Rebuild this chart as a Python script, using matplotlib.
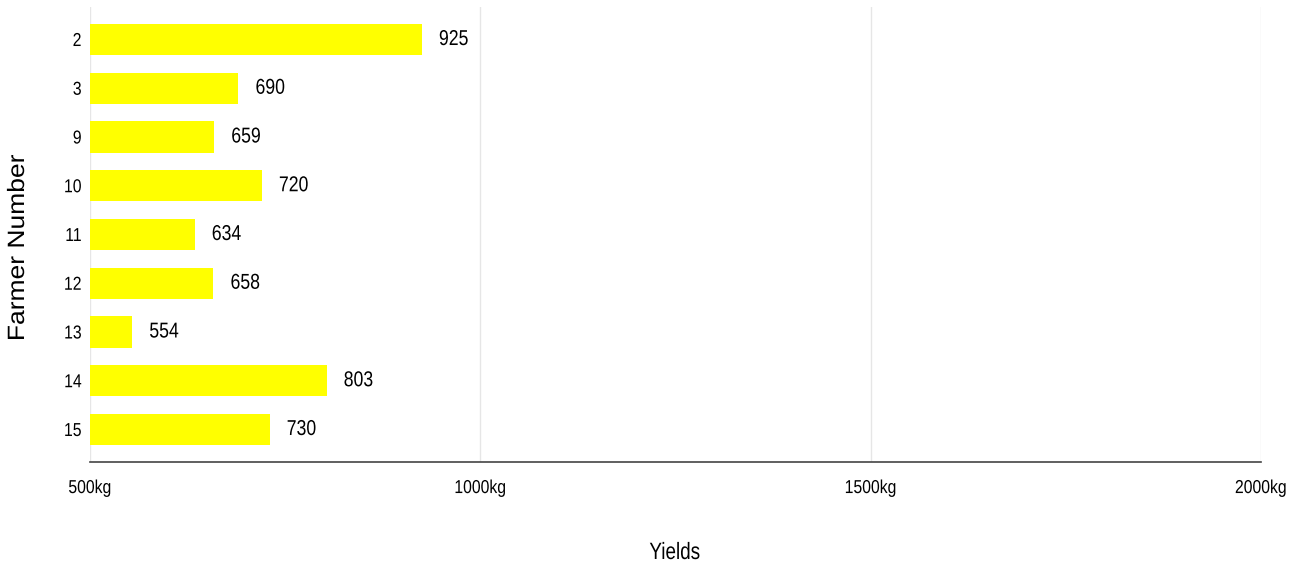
import matplotlib
matplotlib.use("Agg")
import matplotlib.pyplot as plt
from matplotlib.patheffects import AbstractPathEffect
from matplotlib.transforms import Affine2D

farmers = ["2", "3", "9", "10", "11", "12", "13", "14", "15"]
yields = [925, 690, 659, 720, 634, 658, 554, 803, 730]
x_ticks = [500, 1000, 1500, 2000]
x_labels = ["500kg", "1000kg", "1500kg", "2000kg"]

FONT = ["Liberation Sans", "DejaVu Sans"]


class Squeeze(AbstractPathEffect):
    # narrow the glyphs along the baseline (no condensed font installed)
    def __init__(self, sx, align):
        super().__init__()
        self.sx = sx
        self.align = align

    def draw_path(self, renderer, gc, tpath, affine, rgbFace=None):
        w = tpath.get_extents().x1
        t = Affine2D().scale(self.sx, 1).translate((1 - self.sx) * w * self.align, 0) + affine
        renderer.draw_path(gc, tpath, t, rgbFace)


W, H = 1290, 569
fig = plt.figure(figsize=(W / 100, H / 100), dpi=100)
ax = fig.add_axes([90 / W, 1 - 462 / H, (1261 - 90) / W, (462 - 7) / H])

pos = list(range(len(farmers)))
ax.barh(pos, [v - 500 for v in yields], left=500, height=0.64, color="#ffff00")

for p, v in zip(pos, yields):
    ax.text(v + 22, p, str(v), va="center", ha="left", fontsize=15.5, family=FONT,
            path_effects=[Squeeze(0.82, 0)])

ax.set_xlim(500, 2000)
ax.set_ylim(len(farmers) - 1 + 0.667, -0.667)
ax.set_yticks(pos)
for t in ax.set_yticklabels(farmers, family=FONT, fontsize=13.5):
    t.set_path_effects([Squeeze(0.84, 1)])
ax.set_xticks(x_ticks)
for t in ax.set_xticklabels(x_labels, family=FONT, fontsize=13.5):
    t.set_path_effects([Squeeze(0.84, 0.5)])
ax.tick_params(axis="both", length=0)
ax.tick_params(axis="y", pad=6)
ax.tick_params(axis="x", pad=13)

ax.grid(axis="x", color="#e6e6e6", linewidth=1)
ax.set_axisbelow(True)
for side in ["top", "right", "left"]:
    ax.spines[side].set_visible(False)
ax.spines["bottom"].set_color("#444444")
ax.spines["bottom"].set_linewidth(1.2)

fig.text(675 / W, 1 - 553 / H, "Yields", ha="center", va="center", fontsize=17,
         family=FONT, path_effects=[Squeeze(0.8, 0.5)])
fig.text(18 / W, 1 - 248 / H, "Farmer Number", ha="center", va="center", fontsize=17,
         rotation=90, family=FONT, path_effects=[Squeeze(1.12, 0.5)])

fig.savefig("out.png", dpi=100)
